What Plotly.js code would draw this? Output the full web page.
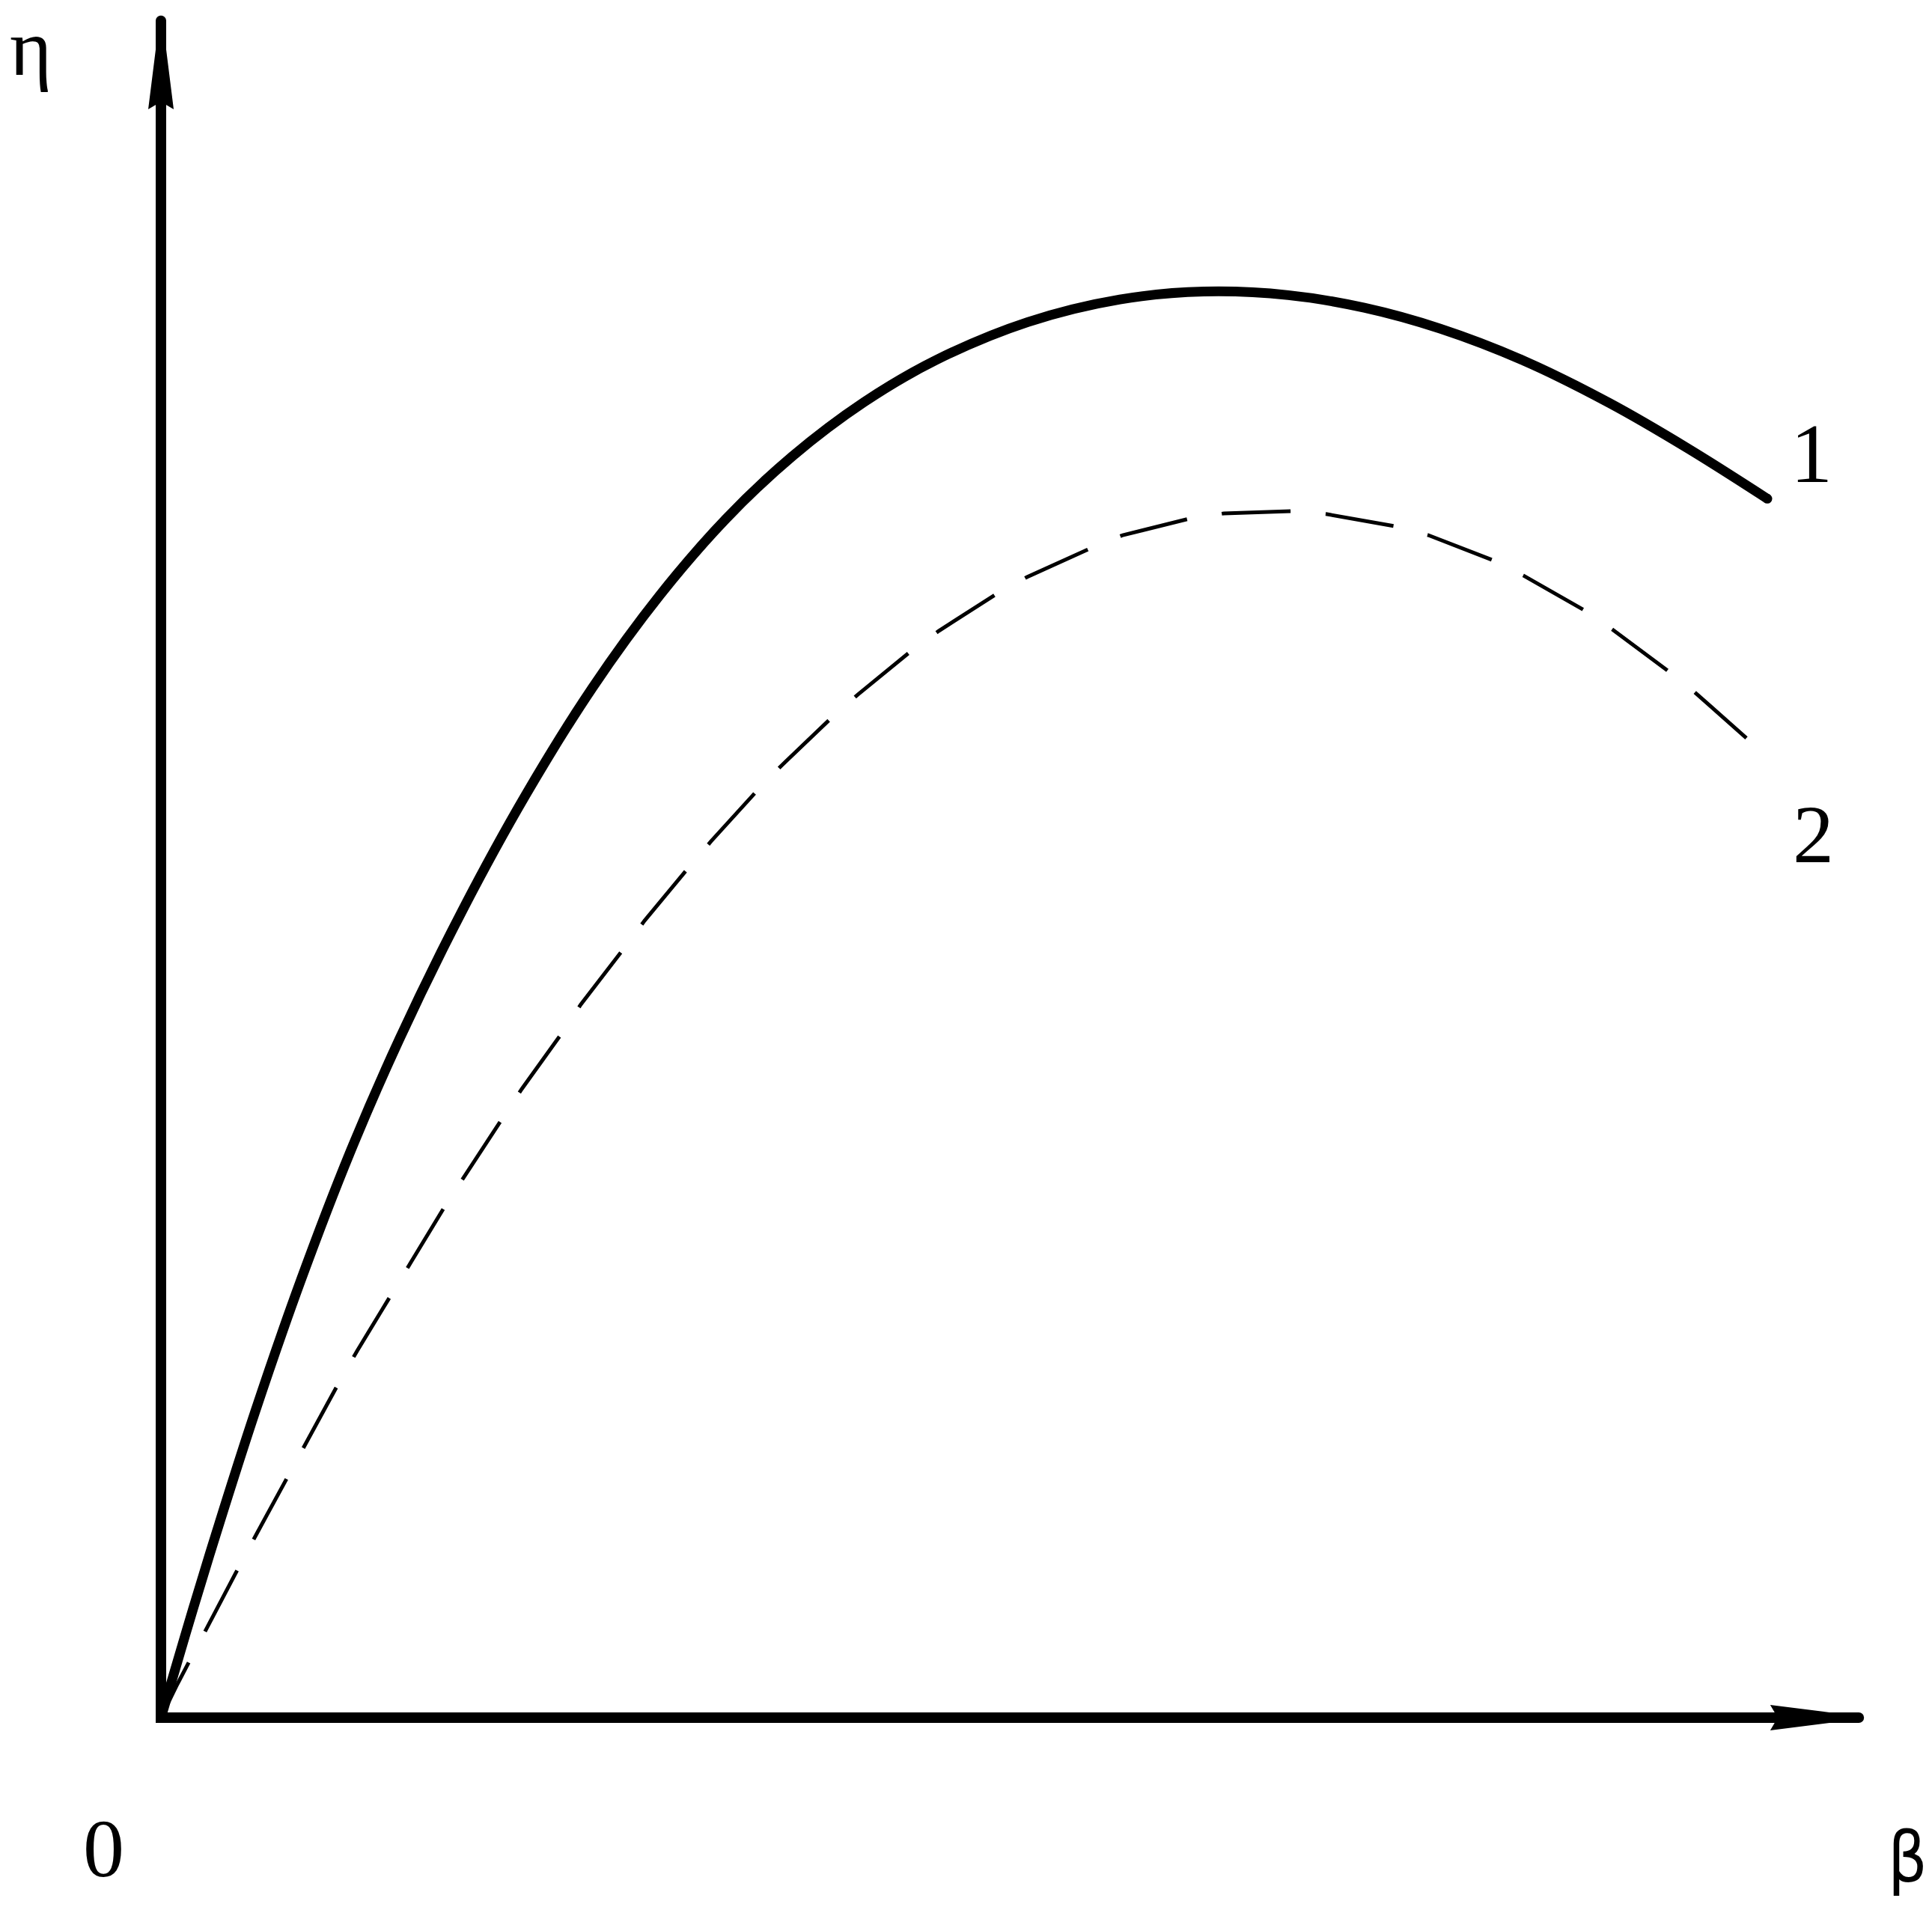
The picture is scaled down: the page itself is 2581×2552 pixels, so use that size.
<!DOCTYPE html>
<html>
<head>
<meta charset="utf-8">
<script src="https://cdn.plot.ly/plotly-3.0.1.min.js"></script>
<style>
  html, body { margin: 0; padding: 0; background: #ffffff; }
  #chart { width: 2581px; height: 2552px; }
</style>
</head>
<body>
<div id="chart"></div>
<script>
// ---------------- data (β along x, η along y, normalised units) ----------------
// Curve 1 (solid)
const beta1 = [0, 0.0143, 0.0286, 0.0554, 0.0822, 0.1110, 0.1398, 0.1769, 0.2141, 0.2534,
  0.2928, 0.3317, 0.3706, 0.4128, 0.4550, 0.5090, 0.5631, 0.6125, 0.6620, 0.7066,
  0.7512, 0.8009, 0.8506, 0.8969, 0.9433];
const eta1 = [0, 0.0486, 0.0959, 0.1800, 0.2571, 0.3320, 0.3982, 0.4741, 0.5420, 0.6052,
  0.6593, 0.7043, 0.7410, 0.7729, 0.7976, 0.8200, 0.8333, 0.8379, 0.8358, 0.8284,
  0.8161, 0.7970, 0.7724, 0.7456, 0.7162];

// Curve 2 (dashed)
const beta2 = [0, 0.0097, 0.0185, 0.0277, 0.0466, 0.0563, 0.0752, 0.0853, 0.1046, 0.1152,
  0.1354, 0.1464, 0.1675, 0.1785, 0.2009, 0.2119, 0.2356, 0.2466, 0.2716, 0.2840,
  0.3095, 0.3231, 0.3503, 0.3644, 0.3938, 0.4092, 0.4404, 0.4567, 0.4910, 0.5086,
  0.5455, 0.5648, 0.6040, 0.6242, 0.6646, 0.6848, 0.7244, 0.7442, 0.7815, 0.8000,
  0.8356, 0.8523, 0.8848, 0.9007, 0.9310];
const eta2 = [0, 0.0198, 0.0361, 0.0545, 0.0901, 0.1082, 0.1438, 0.1618, 0.1970, 0.2155,
  0.2489, 0.2669, 0.3017, 0.3184, 0.3527, 0.3694, 0.4024, 0.4191, 0.4516, 0.4683,
  0.4991, 0.5150, 0.5449, 0.5594, 0.5875, 0.6011, 0.6266, 0.6385, 0.6605, 0.6702,
  0.6869, 0.6948, 0.7045, 0.7076, 0.7089, 0.7071, 0.7001, 0.6948, 0.6803, 0.6711,
  0.6508, 0.6394, 0.6152, 0.6025, 0.5756];

// Axis extents and labels
const axisBetaMax = [0.997];
const axisEtaMax = [0.997];
const curveLabels = ['1', '2'];
const axisTitleX = ['β'];
const axisTitleY = ['η'];
const originLabel = ['0'];

// ---------------- drawing ----------------
const BLACK = '#000000';
const bMax = axisBetaMax[0], eMax = axisEtaMax[0];

const traces = [
  { // axes with rounded ends / corner
    x: [0, 0, bMax], y: [eMax, 0, 0],
    mode: 'lines+markers', type: 'scatter', hoverinfo: 'skip',
    line: { color: BLACK, width: 14 },
    marker: { color: BLACK, size: 14, line: { width: 0 } },
    cliponaxis: false, showlegend: false
  },
  { // curve 1
    x: beta1, y: eta1, mode: 'lines', type: 'scatter', hoverinfo: 'skip',
    line: { color: BLACK, width: 13, shape: 'spline', smoothing: 1 },
    cliponaxis: false, showlegend: false
  },
  { // round end cap of curve 1
    x: [beta1[beta1.length - 1]], y: [eta1[eta1.length - 1]],
    mode: 'markers', type: 'scatter', hoverinfo: 'skip',
    marker: { color: BLACK, size: 13, line: { width: 0 } },
    cliponaxis: false, showlegend: false
  },
  { // curve 2, drawn from its right end toward the origin
    x: beta2.slice().reverse(), y: eta2.slice().reverse(),
    mode: 'lines', type: 'scatter', hoverinfo: 'skip',
    line: { color: BLACK, width: 5, dash: '92px,47px', shape: 'linear' },
    cliponaxis: false, showlegend: false
  }
];

// arrow heads (as fractions of the axis length)
const narrowF = 0.9815 / 0.997, baseF = 0.9450 / 0.997, notchF = 0.9494 / 0.997;
const halfW = 0.00747, halfN = 0.0029;
const yN = eMax * narrowF, yB = eMax * baseF, yK = eMax * notchF;
const xN = bMax * narrowF, xB = bMax * baseF, xK = bMax * notchF;
const shapes = [
  { type: 'path', xref: 'x', yref: 'y', fillcolor: BLACK, line: { width: 0 },
    path: `M ${-halfN},${yN} L ${halfN},${yN} L ${halfW},${yB} L 0,${yK} L ${-halfW},${yB} Z` },
  { type: 'path', xref: 'x', yref: 'y', fillcolor: BLACK, line: { width: 0 },
    path: `M ${xN},${halfN} L ${xN},${-halfN} L ${xB},${-halfW} L ${xK},0 L ${xB},${halfW} Z` }
];

const serif = 'Liberation Serif, Times New Roman, serif';
const annotations = [
  { text: axisTitleY[0], xref: 'paper', yref: 'paper', x: 0.0160, y: 0.9750,
    xanchor: 'center', yanchor: 'middle', showarrow: false,
    font: { family: serif, size: 108, color: BLACK } },
  { text: originLabel[0], xref: 'paper', yref: 'paper', x: 0.05347, y: 0.03213,
    xanchor: 'center', yanchor: 'middle', showarrow: false,
    font: { family: serif, size: 110, color: BLACK } },
  { text: axisTitleX[0], xref: 'paper', yref: 'paper', x: 0.98722, y: 0.02704,
    xanchor: 'center', yanchor: 'middle', showarrow: false,
    font: { family: 'Liberation Sans Narrow, DejaVu Sans Condensed, sans-serif', size: 92, color: BLACK } },
  { text: curveLabels[0], xref: 'paper', yref: 'paper', x: 0.93762, y: 0.76238,
    xanchor: 'center', yanchor: 'middle', showarrow: false,
    font: { family: serif, size: 112, color: BLACK } },
  { text: curveLabels[1], xref: 'paper', yref: 'paper', x: 0.93840, y: 0.56309,
    xanchor: 'center', yanchor: 'middle', showarrow: false,
    font: { family: serif, size: 110, color: BLACK } }
];

const layout = {
  width: 2581, height: 2552,
  margin: { l: 0, r: 0, t: 0, b: 0, pad: 0 },
  paper_bgcolor: '#ffffff', plot_bgcolor: '#ffffff',
  showlegend: false,
  xaxis: { visible: false, range: [-0.09451, 1.04000], fixedrange: true },
  yaxis: { visible: false, range: [-0.11302, 1.00923], fixedrange: true },
  shapes: shapes,
  annotations: annotations
};

Plotly.newPlot('chart', traces, layout, { staticPlot: true, displayModeBar: false });
</script>
</body>
</html>
